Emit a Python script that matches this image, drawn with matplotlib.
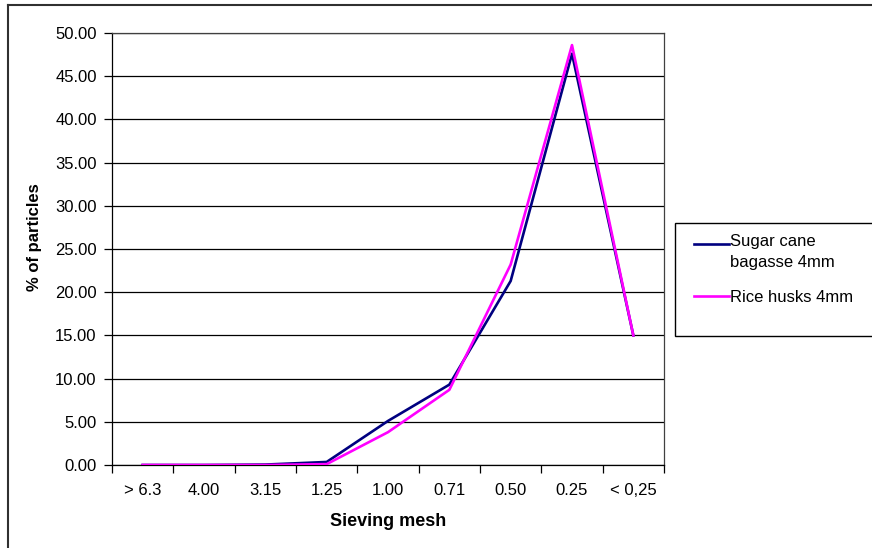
import matplotlib
matplotlib.use("Agg")
import matplotlib.pyplot as plt
from matplotlib.lines import Line2D
from matplotlib.patches import Rectangle
from matplotlib.legend_handler import HandlerLine2D

plt.rcParams['font.family'] = ['Liberation Sans', 'DejaVu Sans']

# sieve classes and share of particles (%)
mesh_labels = ["> 6.3", "4.00", "3.15", "1.25", "1.00", "0.71", "0.50", "0.25", "< 0,25"]
sugar_cane = [0.0, 0.0, 0.05, 0.35, 5.1, 9.3, 21.3, 47.6, 15.0]
rice_husks = [0.0, 0.0, 0.0, 0.1, 3.8, 8.7, 23.2, 48.6, 15.0]
y_ticks = [0, 5, 10, 15, 20, 25, 30, 35, 40, 45, 50]


class TopLineHandler(HandlerLine2D):
    """Legend line that sits next to the first line of a two-line label."""
    def __init__(self, shift, **kw):
        super().__init__(**kw)
        self.shift = shift

    def create_artists(self, legend, orig_handle, xdescent, ydescent,
                       width, height, fontsize, trans):
        return super().create_artists(legend, orig_handle, xdescent, ydescent - self.shift,
                                      width, height, fontsize, trans)


W, H = 872, 548
fig = plt.figure(figsize=(W / 100, H / 100), dpi=100)
ax = fig.add_axes([112 / W, (H - 465) / H, 552 / W, 432 / H])

x = list(range(len(mesh_labels)))
l1, = ax.plot(x, sugar_cane, color='#000080', linewidth=1.9, label='Sugar cane\nbagasse 4mm', zorder=3)
l2, = ax.plot(x, rice_husks, color='#FF00FF', linewidth=1.9, label='Rice husks 4mm', zorder=4)

ax.set_xlim(-0.5, len(mesh_labels) - 0.5)
ax.set_ylim(0, 50)

# y axis
ax.set_yticks(y_ticks)
ax.set_yticklabels([f"{v:.2f}" for v in y_ticks])
ax.yaxis.grid(True, color='black', linewidth=0.9)
ax.set_axisbelow(True)
ax.tick_params(axis='y', direction='out', length=6, width=0.9, pad=5, labelsize=12)

# x axis: ticks on category borders, labels centred
ax.set_xticks([i - 0.5 for i in range(len(mesh_labels) + 1)])
ax.set_xticklabels([])
ax.set_xticks(x, minor=True)
ax.set_xticklabels(mesh_labels, minor=True)
ax.tick_params(axis='x', which='major', direction='out', length=6, width=0.9)
ax.tick_params(axis='x', which='minor', length=0, pad=13, labelsize=12)

for side in ['top', 'right']:
    ax.spines[side].set_color('#404040')
for side in ['left', 'bottom']:
    ax.spines[side].set_color('black')
for sp in ax.spines.values():
    sp.set_linewidth(0.9)

ax.set_xlabel("Sieving mesh", fontsize=13, fontweight='bold', labelpad=11)
ax.set_ylabel("% of particles", fontsize=12, fontweight='bold')
ax.yaxis.set_label_coords(-0.127, 0.528)

# legend box sticking out past the right edge
fig.add_artist(Rectangle((675 / W, (H - 336) / H), 220 / W, 113 / H,
                         transform=fig.transFigure, facecolor='white',
                         edgecolor='black', linewidth=1.0, clip_on=False))
leg = fig.legend(handles=[l1, l2], loc='upper left',
                 bbox_to_anchor=(687 / W, (H - 227) / H),
                 frameon=False, fontsize=12, handlelength=2.1,
                 handletextpad=0.05, labelspacing=1.2, borderaxespad=0,
                 handler_map={l1: TopLineHandler(shift=11)})
for t in leg.get_texts():
    t.set_linespacing(1.5)

# outer chart border
fig.add_artist(Line2D([8 / W, 1], [(H - 5) / H] * 2, color='#303030', linewidth=1.5,
                      transform=fig.transFigure))
fig.add_artist(Line2D([8 / W] * 2, [0, (H - 5) / H], color='#303030', linewidth=1.5,
                      transform=fig.transFigure))

fig.savefig("out.png", dpi=100)
